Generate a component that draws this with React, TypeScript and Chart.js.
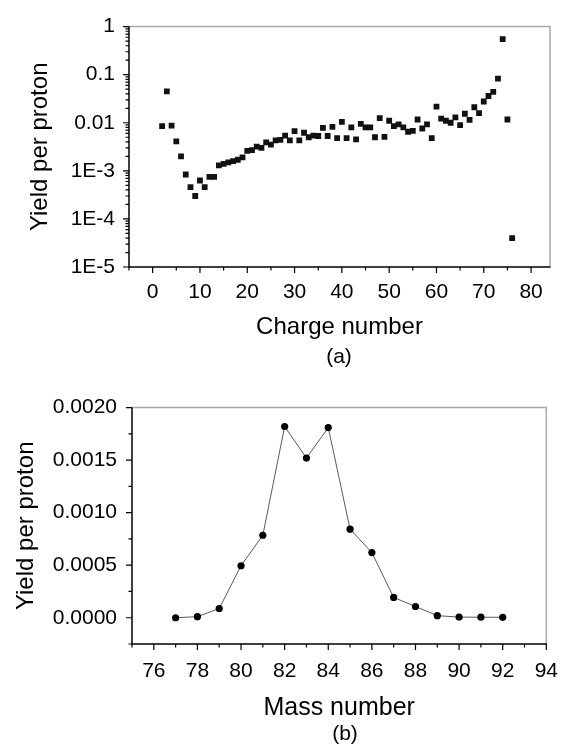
import React, { useEffect, useRef } from "react";
import { Chart, registerables } from "chart.js";

Chart.register(...registerables);

const FONT = "'Liberation Sans', Arial, Helvetica, sans-serif";

// ---- Chart (a): yield per proton vs charge number ----
const chargeNumbers = [
  2, 3, 4, 5, 6, 7, 8, 9, 10, 11, 12, 13, 14, 15, 16, 17, 18, 19, 20, 21,
  22, 23, 24, 25, 26, 27, 28, 29, 30, 31, 32, 33, 34, 35, 36, 37, 38, 39, 40,
  41, 42, 43, 44, 45, 46, 47, 48, 49, 50, 51, 52, 53, 54, 55, 56, 57, 58, 59,
  60, 61, 62, 63, 64, 65, 66, 67, 68, 69, 70, 71, 72, 73, 74, 75, 76,
];
const chargeYields = [
  0.0085, 0.045, 0.0087, 0.0041, 0.002, 0.00084, 0.00046, 0.0003, 0.00063,
  0.00046, 0.00075, 0.00075, 0.0013, 0.0014, 0.0015, 0.0016, 0.0017, 0.0019,
  0.0026, 0.0027, 0.0032, 0.003, 0.0039, 0.0035, 0.0043, 0.0044, 0.0054,
  0.0043, 0.0067, 0.0043, 0.0062, 0.005, 0.0054, 0.0053, 0.0078, 0.0053,
  0.0082, 0.0048, 0.0104, 0.0048, 0.008, 0.0045, 0.0095, 0.008, 0.008, 0.005,
  0.0125, 0.0051, 0.011, 0.0085, 0.0093, 0.008, 0.0065, 0.0068, 0.0117,
  0.0076, 0.0093, 0.0048, 0.0216, 0.0122, 0.011, 0.01, 0.013, 0.0089, 0.0154,
  0.0115, 0.021, 0.0159, 0.0277, 0.036, 0.044, 0.083, 0.55, 0.0117, 0.00004,
];
const chargeTicks = [0, 10, 20, 30, 40, 50, 60, 70, 80];
const chargeMinorTicks = [-5, 5, 15, 25, 35, 45, 55, 65, 75];
const logTickValues = [1, 0.1, 0.01, 0.001, 0.0001, 0.00001];
const logTickLabels = ["1", "0.1", "0.01", "1E-3", "1E-4", "1E-5"];

// ---- Chart (b): yield per proton vs mass number ----
const massNumbers = [77, 78, 79, 80, 81, 82, 83, 84, 85, 86, 87, 88, 89, 90, 91, 92];
const massYields = [
  0.0, 0.00001, 0.000088, 0.000495, 0.000785, 0.00182, 0.00152, 0.00181,
  0.000843, 0.00062, 0.000193, 0.000107, 0.00002, 0.000006, 0.000005, 0.000004,
];
const massTicks = [76, 78, 80, 82, 84, 86, 88, 90, 92, 94];
const massMinorTicks = [75, 77, 79, 81, 83, 85, 87, 89, 91, 93];
const yieldTicks = [0, 0.0005, 0.001, 0.0015, 0.002];
const yieldTickLabels = ["0.0000", "0.0005", "0.0010", "0.0015", "0.0020"];
const yieldMinorTicks = [-0.00025, 0.00025, 0.00075, 0.00125, 0.00175];

const logMinorTicks: number[] = [];
for (let d = 0.00001; d < 1; d *= 10) {
  for (let k = 2; k <= 9; k++) logMinorTicks.push(d * k);
}

const frameTicks = {
  id: "frameTicks",
  afterDraw(chart: any, _args: any, opts: any) {
    const { ctx, chartArea: a, scales } = chart;
    const xs = scales.x;
    const ys = scales.y;
    ctx.save();
    ctx.lineCap = "butt";
    // grey top & right frame
    ctx.strokeStyle = "#a8a8a8";
    ctx.lineWidth = 1.5;
    ctx.beginPath();
    ctx.moveTo(a.left, a.top);
    ctx.lineTo(a.right, a.top);
    ctx.lineTo(a.right, a.bottom);
    ctx.stroke();
    // black axes
    ctx.strokeStyle = "#000";
    ctx.lineWidth = 1.5;
    ctx.beginPath();
    ctx.moveTo(a.left, a.top);
    ctx.lineTo(a.left, a.bottom);
    ctx.lineTo(a.right + 0.5, a.bottom);
    ctx.stroke();
    ctx.lineWidth = 1.2;
    ctx.beginPath();
    const tickX = (vals: number[], len: number) => {
      vals.forEach((v) => {
        const p = xs.getPixelForValue(v);
        if (p < a.left - 1 || p > a.right + 1) return;
        ctx.moveTo(p, a.bottom);
        ctx.lineTo(p, a.bottom + len);
      });
    };
    const tickY = (vals: number[], len: number) => {
      vals.forEach((v) => {
        const p = ys.getPixelForValue(v);
        if (p < a.top - 1 || p > a.bottom + 1) return;
        ctx.moveTo(a.left, p);
        ctx.lineTo(a.left - len, p);
      });
    };
    tickX(opts.xMajor, 6);
    tickX(opts.xMinor, 3.5);
    tickY(opts.yMajor, 6);
    tickY(opts.yMinor, 3.5);
    ctx.stroke();
    ctx.restore();
  },
};

function ChargeChart() {
  const ref = useRef<HTMLCanvasElement | null>(null);
  useEffect(() => {
    if (!ref.current) return;
    const points = chargeNumbers.map((z, i) => ({ x: z, y: chargeYields[i] }));
    const chart = new Chart(ref.current, {
      type: "scatter",
      data: {
        datasets: [
          {
            data: points,
            pointStyle: "rect",
            pointRadius: 4.1,
            pointBackgroundColor: "#111",
            pointBorderColor: "#111",
            pointBorderWidth: 0,
            showLine: false,
          },
        ],
      },
      options: {
        responsive: false,
        animation: false,
        layout: { padding: { top: 21, right: 23, left: 0, bottom: 36 } },
        plugins: {
          legend: { display: false },
          tooltip: { enabled: false },
          frameTicks: {
            xMajor: chargeTicks,
            xMinor: chargeMinorTicks,
            yMajor: logTickValues,
            yMinor: logMinorTicks,
          },
        } as any,
        scales: {
          x: {
            type: "linear",
            min: -5,
            max: 84,
            afterBuildTicks: (s: any) => {
              s.ticks = chargeTicks.map((v) => ({ value: v }));
            },
            afterFit: (s: any) => {
              s.height = 77;
            },
            grid: { display: false, drawTicks: false },
            border: { display: false },
            ticks: {
              autoSkip: false,
              maxRotation: 0,
              padding: 13,
              color: "#000",
              font: { family: FONT, size: 21 },
              callback: (v: any) => String(v),
            },
            title: {
              display: true,
              text: "Charge number",
              color: "#000",
              font: { family: FONT, size: 24 },
              padding: { top: 0, bottom: 2 },
            },
          },
          y: {
            type: "logarithmic",
            min: 0.00001,
            max: 1,
            afterBuildTicks: (s: any) => {
              s.ticks = logTickValues.map((v) => ({ value: v }));
            },
            afterFit: (s: any) => {
              s.width = 129;
            },
            grid: { display: false, drawTicks: false },
            border: { display: false },
            ticks: {
              autoSkip: false,
              padding: 14,
              color: "#000",
              font: { family: FONT, size: 21 },
              callback: (_v: any, i: number) => logTickLabels[i],
            },
            title: {
              display: true,
              text: "Yield per proton",
              color: "#000",
              font: { family: FONT, size: 24 },
              padding: { top: 26, bottom: 0 },
            },
          },
        },
      } as any,
      plugins: [frameTicks as any],
    });
    return () => chart.destroy();
  }, []);
  return <canvas ref={ref} width={573} height={380} style={{ display: "block" }} />;
}

function MassChart() {
  const ref = useRef<HTMLCanvasElement | null>(null);
  useEffect(() => {
    if (!ref.current) return;
    const points = massNumbers.map((m, i) => ({ x: m, y: massYields[i] }));
    const chart = new Chart(ref.current, {
      type: "scatter",
      data: {
        datasets: [
          {
            data: points,
            showLine: true,
            borderColor: "#5a5a5a",
            borderWidth: 1,
            pointStyle: "circle",
            pointRadius: 3.6,
            pointBackgroundColor: "#000",
            pointBorderColor: "#000",
            pointBorderWidth: 0,
          },
        ],
      },
      options: {
        responsive: false,
        animation: false,
        layout: { padding: { top: 20, right: 14, left: 0, bottom: 22 } },
        plugins: {
          legend: { display: false },
          tooltip: { enabled: false },
          frameTicks: {
            xMajor: massTicks,
            xMinor: massMinorTicks,
            yMajor: yieldTicks,
            yMinor: yieldMinorTicks,
          },
        } as any,
        scales: {
          x: {
            type: "linear",
            min: 75,
            max: 94,
            afterBuildTicks: (s: any) => {
              s.ticks = massTicks.map((v) => ({ value: v }));
            },
            afterFit: (s: any) => {
              s.height = 81;
            },
            grid: { display: false, drawTicks: false },
            border: { display: false },
            ticks: {
              autoSkip: false,
              maxRotation: 0,
              padding: 15,
              color: "#000",
              font: { family: FONT, size: 21 },
              callback: (v: any) => String(v),
            },
            title: {
              display: true,
              text: "Mass number",
              color: "#000",
              font: { family: FONT, size: 25 },
              padding: { top: 0, bottom: 2 },
            },
          },
          y: {
            type: "linear",
            min: -0.00025,
            max: 0.002,
            afterBuildTicks: (s: any) => {
              s.ticks = yieldTicks.map((v) => ({ value: v }));
            },
            afterFit: (s: any) => {
              s.width = 132;
            },
            grid: { display: false, drawTicks: false },
            border: { display: false },
            ticks: {
              autoSkip: false,
              padding: 15,
              color: "#000",
              font: { family: FONT, size: 21 },
              callback: (_v: any, i: number) => yieldTickLabels[i],
            },
            title: {
              display: true,
              text: "Yield per proton",
              color: "#000",
              font: { family: FONT, size: 24 },
              padding: { top: 12, bottom: 0 },
            },
          },
        },
      } as any,
      plugins: [frameTicks as any],
    });
    return () => chart.destroy();
  }, []);
  return <canvas ref={ref} width={573} height={367} style={{ display: "block" }} />;
}

const captionStyle: React.CSSProperties = {
  position: "absolute",
  fontFamily: FONT,
  fontSize: 21,
  color: "#000",
  lineHeight: "24px",
  transform: "translate(-50%, -50%)",
  whiteSpace: "nowrap",
};

export default function App() {
  return (
    <div
      style={{
        position: "absolute",
        left: 0,
        top: 0,
        width: 573,
        height: 747,
        background: "#fff",
        overflow: "hidden",
      }}
    >
      <div style={{ position: "absolute", left: 0, top: 0 }}>
        <ChargeChart />
      </div>
      <div style={{ position: "absolute", left: 0, top: 380 }}>
        <MassChart />
      </div>
      <div style={{ ...captionStyle, left: 339, top: 356 }}>(a)</div>
      <div style={{ ...captionStyle, left: 345, top: 733 }}>(b)</div>
    </div>
  );
}
